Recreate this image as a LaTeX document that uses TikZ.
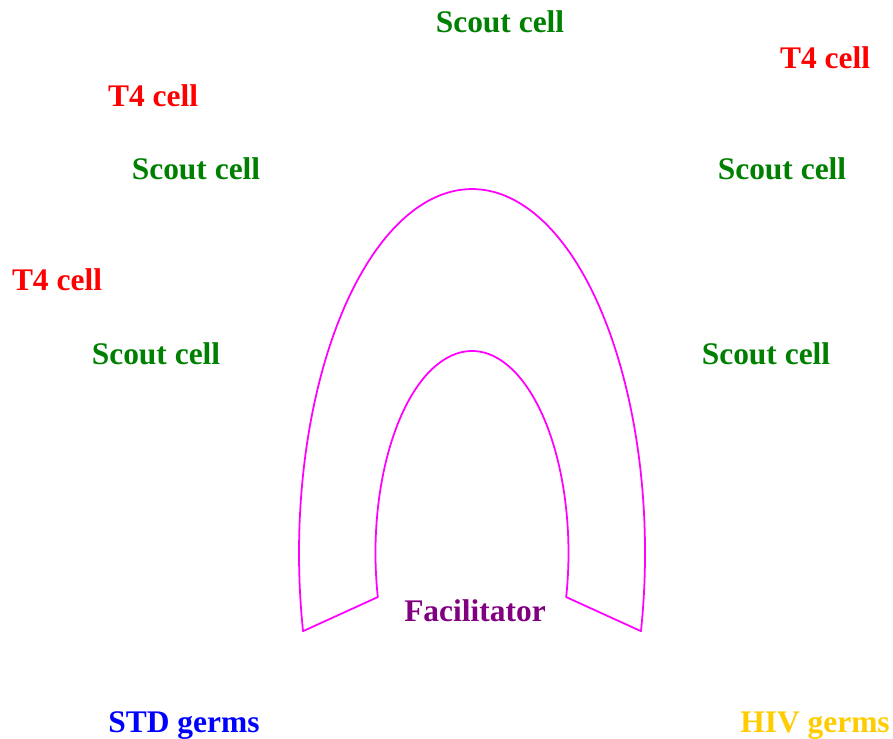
\documentclass[tikz,border=0pt]{standalone}
\usepackage{fontspec}
\setmainfont{Liberation Serif}
\usepackage{tikz}
\usetikzlibrary{positioning}
\usepackage{xcolor}
\definecolor{ScoutGreen}{HTML}{008000}
\definecolor{TRed}{HTML}{FF0000}
\definecolor{StdBlue}{HTML}{0000FF}
\definecolor{HivGold}{HTML}{FFCC00}
\definecolor{FacPurple}{HTML}{800080}
\definecolor{Wall}{HTML}{FF00FF}

\begin{document}
\begin{tikzpicture}[x=0.02cm, y=0.02cm,
    every node/.style={font=\fontsize{17.9}{20}\selectfont\bfseries, inner sep=0pt, anchor=base},
    scoutlbl/.style={text=ScoutGreen},
    tlbl/.style={text=TRed}]
  \useasboundingbox (0,0) rectangle (893,738);
  % Arch of the facilitator
  \coordinate (outerR) at (640.96,106.83);
  \coordinate (innerL) at (377.82,140.94);
  \draw[Wall, line width=1pt, line join=round]
    (outerR)
    arc[start angle=-12.4, end angle=192.4, x radius=173, y radius=364]
    -- (innerL)
    arc[start angle=192.6, end angle=-12.6, x radius=96.5, y radius=202]
    -- cycle;
  % Scout cells
  \node[scoutlbl] (scoutTop) at (500,705) {Scout cell};
  \node[scoutlbl] (scoutUL) at (196,558) {Scout cell};
  \node[scoutlbl] (scoutUR) at (782,558) {Scout cell};
  \node[scoutlbl] (scoutLL) at (156,374) {Scout cell};
  \node[scoutlbl] (scoutLR) at (766,374) {Scout cell};
  % T4 cells
  \node[tlbl] (tRight) at (825,669) {T4 cell};
  \node[tlbl] (tUpLeft) at (153,631) {T4 cell};
  \node[tlbl] (tLeft) at (57,447) {T4 cell};
  % Facilitator and germs
  \node[text=FacPurple] (facil) at (475,117) {Facilitator};
  \node[text=StdBlue] (stdGerms) at (184,6) {STD germs};
  \node[text=HivGold] (hivGerms) at (815,6) {HIV germs};
\end{tikzpicture}
\end{document}
